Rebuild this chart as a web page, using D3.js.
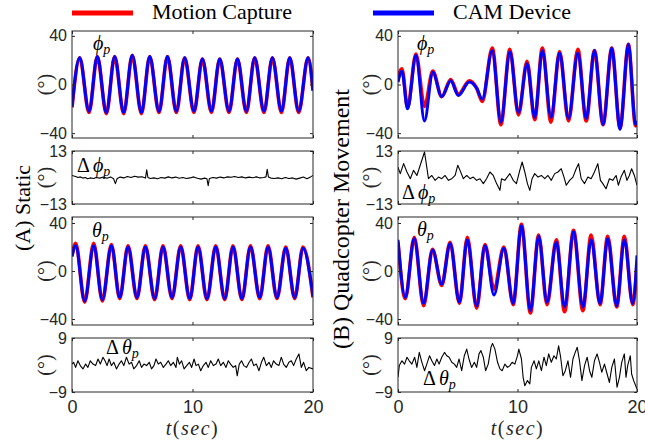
<!DOCTYPE html>
<html>
<head>
<meta charset="utf-8">
<script src="https://cdn.jsdelivr.net/npm/d3@7"></script>
<style>
body { margin: 0; background: #fff; }
svg { display: block; }
.tick text { font-family: "Liberation Sans", Arial, sans-serif; fill: #262626; }
.tick line { stroke: #262626; }
</style>
</head>
<body>
<div id="chart"></div>
<script>
// ---- (A) static: roll / pitch peaks & troughs (sec, deg)
const phiStaticT = [0, 0.64, 1.41, 2.1, 2.85, 3.54, 4.29, 5.0, 5.76, 6.45, 7.22, 7.92, 8.66, 9.35, 10.12, 10.82, 11.57, 12.26, 13.03, 13.73, 14.47, 15.16, 15.93, 16.63, 17.38, 18.07, 18.81, 19.59, 20]
const phiStaticCam = [-18, 22, -22, 23, -23, 23, -23, 24, -23, 23, -22, 23, -22, 22, -22, 21, -22, 21, -22, 21, -22, 22, -22, 22, -22, 22, -22, 22, -5]
const phiStaticMocap = [-19, 22, -23, 23, -24, 23, -24, 24, -24, 23, -23, 23, -23, 22, -23, 21, -23, 21, -23, 21, -23, 22, -23, 22, -23, 22, -23, 22, -5]

const thetaStaticT = [0, 0.31, 1.05, 1.8, 2.52, 3.27, 3.96, 4.65, 5.39, 6.09, 6.86, 7.55, 8.3, 9.02, 9.77, 10.46, 11.2, 11.93, 12.67, 13.36, 14.1, 14.81, 15.58, 16.27, 17.01, 17.74, 18.48, 19.17, 20]
const thetaStaticCam = [12, 21, -25, 21, -24, 21, -22, 20, -22, 20, -23, 20, -22, 20, -23, 20, -23, 20, -23, 20, -23, 20, -22, 20, -22, 19, -22, 19, -21]
const thetaStaticMocap = [13, 23, -26, 23, -25, 22, -23, 21, -23, 21, -24, 21, -23, 21, -24, 21, -24, 21, -24, 21, -24, 21, -23, 21, -23, 20, -23, 20, -22]

// ---- (B) quadcopter movement
const phiMoveT = [0, 0.33, 0.8, 1.5, 2.22, 2.91, 3.66, 4.41, 5.05, 5.97, 6.58, 7.05, 7.89, 8.61, 9.36, 10.08, 10.8, 11.44, 12.08, 12.8, 13.52, 14.27, 15.05, 15.75, 16.44, 17.16, 17.89, 18.58, 19.28, 19.88, 20]
const phiMoveCam = [2, 11, -20, 24, -30, 10, -10, 3, -9, 2, -3, -12, 28, -31, 27, -23, 17, -27, 28, -27, 26, -28, 26, -28, 28, -33, 30, -37, 33, -33, -30]
const phiMoveMocap = [6, 13, -19, 25, -18, 11, -10, 4, -8, 3, -3, -14, 30, -33, 29, -25, 19, -29, 30, -31, 27, -30, 29, -30, 28, -33, 30, -36, 33, -34, -31]

const thetaMoveT = [0, 0.61, 1.36, 2.14, 2.89, 3.66, 4.36, 5.14, 5.8, 6.58, 7.28, 8.03, 8.86, 9.64, 10.33, 11.08, 11.77, 12.47, 13.25, 13.94, 14.69, 15.47, 16.16, 16.91, 17.55, 18.3, 18.94, 19.64, 20]
const thetaMoveCam = [26, -22, 27, -27, 17.5, -11, 23, -26, 26, -29, 21, -20, 19, -27, 38, -33, 29, -26, 24, -30, 33, -30, 26, -27, 27, -29, 26, -27, 13]
const thetaMoveMocap = [24, -23, 28, -29, 18, -12, 24, -27, 28, -31, 22, -15, 20, -28, 39, -35, 30, -28, 26, -34, 34, -33, 30, -28, 29, -30, 29, -28, 5]

// ---- errors (sec, deg)
const dPhiStatic = [[0,1],[0.3,0.5],[0.5,0],[0.7,0.3],[0.9,-0.3],[1.1,0],[1.3,-0.6],[1.5,-0.2],[1.8,-0.5],[2.0,0],[2.3,-0.3],[2.6,0.2],[2.9,-0.4],[3.2,0.3],[3.45,-0.6],[3.6,-3],[3.75,-0.5],[4.0,0.2],[4.3,-0.2],[4.6,0.5],[4.9,0],[5.2,0.6],[5.5,0.2],[5.8,0.4],[6.1,-0.3],[6.2,3.8],[6.3,0],[6.5,-0.5],[6.8,-0.2],[7.1,-0.6],[7.4,0],[7.7,-0.3],[8.0,0.3],[8.3,-0.2],[8.6,0.2],[8.9,-0.4],[9.2,0],[9.5,-0.5],[9.8,-0.2],[10.1,0.3],[10.4,-0.4],[10.7,-0.8],[11.0,-0.3],[11.2,-0.6],[11.3,-4],[11.4,-0.5],[11.7,0],[12.0,-0.3],[12.3,0.2],[12.6,-0.2],[12.9,0.3],[13.2,0.1],[13.5,0.5],[13.8,0],[14.1,0.3],[14.4,-0.2],[14.7,0.2],[15.0,-0.1],[15.3,0.3],[15.6,-0.2],[15.9,0],[16.1,0.3],[16.2,4],[16.3,0.3],[16.5,-0.3],[16.8,-0.5],[17.1,-0.2],[17.4,-0.6],[17.7,0],[18.0,-0.5],[18.3,-0.2],[18.6,-0.8],[18.9,-0.3],[19.2,0.2],[19.5,-0.6],[19.8,0.3],[20,1]]

const dThetaStatic = [[0,0.3],[0.13,0.9],[0.3,-0.8],[0.49,1.4],[0.69,-0.2],[0.91,-1.3],[1.13,0.3],[1.32,-0.8],[1.52,1.4],[1.74,0.3],[1.96,-0.2],[2.16,2],[2.35,0.3],[2.57,2.6],[2.74,1.4],[2.91,-0.2],[3.08,2],[3.27,-0.2],[3.47,0.9],[3.69,-1.3],[3.91,0.3],[4.1,1.4],[4.3,-0.2],[4.52,2.6],[4.74,0.3],[4.94,0.9],[5.13,-1.3],[5.36,-0.2],[5.58,1.4],[5.77,-0.8],[5.97,0.3],[6.19,-0.2],[6.41,0.9],[6.6,-1.3],[6.8,-0.2],[6.97,2],[7.16,0.3],[7.36,0.9],[7.58,-0.8],[7.8,0.3],[7.99,1.4],[8.19,-0.2],[8.41,0.9],[8.63,-0.8],[8.74,2.6],[8.91,0.3],[9.1,1.4],[9.3,-1.3],[9.52,-0.2],[9.74,0.9],[9.93,-0.8],[10.13,2],[10.29,-0.2],[10.49,0.3],[10.68,-1.9],[10.9,-0.2],[11.12,0.9],[11.31,-0.8],[11.51,1.4],[11.73,-0.2],[11.95,0.3],[12.14,2],[12.34,-0.2],[12.56,0.9],[12.78,-0.8],[12.97,1.4],[13.16,0.3],[13.38,-0.8],[13.58,-0.2],[13.71,-3.6],[13.88,0.3],[14.07,1.4],[14.26,-0.2],[14.48,-0.8],[14.7,0.9],[14.89,2],[15.08,-0.2],[15.3,0.3],[15.52,-1.9],[15.72,0.9],[15.91,2.6],[16.13,-0.2],[16.35,0.9],[16.54,-0.8],[16.73,1.4],[16.95,0.3],[17.17,-0.2],[17.37,2.6],[17.56,0.3],[17.78,-0.8],[18.0,0.9],[18.2,1.4],[18.39,-0.2],[18.61,2],[18.83,3.7],[19.03,-0.8],[19.22,0.9],[19.44,-1.9],[19.66,-0.8],[20,-1.3]]

const dPhiMove = [[0,5],[0.19,1.9],[0.47,6.8],[0.75,2.7],[1.03,-0.6],[1.3,3.5],[1.58,1],[1.86,6],[2.22,12.5],[2.41,5],[2.55,-0.6],[2.83,1],[3.11,-1.4],[3.39,0.2],[3.66,-0.6],[3.94,1],[4.22,-1.4],[4.5,-0.6],[4.78,1],[5.0,6],[5.19,3.5],[5.47,-0.6],[5.75,1],[6.03,-0.6],[6.3,0.2],[6.58,-1.4],[6.86,-0.6],[7.14,-3],[7.41,-0.6],[7.69,2.7],[7.97,1],[8.25,-3],[8.53,-6.3],[8.66,-0.6],[8.94,-1.4],[9.36,1.9],[9.64,-1.4],[9.91,-3],[10.19,3.5],[10.39,7.6],[10.61,2.7],[10.83,-3],[11.03,-6.3],[11.22,-0.6],[11.44,1.9],[11.72,0.2],[12.0,1],[12.28,-0.6],[12.55,1],[12.83,-1.4],[13.11,1.9],[13.39,2.7],[13.66,4.3],[13.89,0.2],[14.08,-3.8],[14.36,-1.4],[14.64,0.2],[14.91,4.3],[15.11,6.8],[15.33,-0.6],[15.61,-3],[15.89,0.2],[16.16,-0.6],[16.44,2.7],[16.72,6.8],[16.94,-1.4],[17.14,-3],[17.41,-5.5],[17.69,-0.6],[17.97,-1.4],[18.25,1],[18.44,-3.8],[18.66,0.2],[18.94,3.5],[19.16,-1.4],[19.36,1],[19.55,4.3],[19.78,1],[20,-3.8]]

const dThetaMoveT = [0, 0.11, 0.33, 0.55, 0.75, 0.94, 1.16, 1.39, 1.58, 1.78, 2.0, 2.22, 2.41, 2.64, 2.83, 3.05, 3.25, 3.44, 3.66, 3.89, 4.08, 4.28, 4.5, 4.72, 4.91, 5.11, 5.33, 5.55, 5.75, 5.94, 6.16, 6.39, 6.58, 6.78, 6.94, 7.14, 7.33, 7.55, 7.78, 7.91, 8.11, 8.33, 8.53, 8.72, 8.94, 9.16, 9.36, 9.55, 9.78, 10.0, 10.11, 10.33, 10.47, 10.61, 10.83, 11.03, 11.16, 11.39, 11.58, 11.78, 12.0, 12.22, 12.41, 12.61, 12.83, 13.05, 13.25, 13.44, 13.61, 13.8, 14.0, 14.22, 14.44, 14.64, 14.83, 15.0, 15.19, 15.39, 15.61, 15.83, 16.03, 16.22, 16.44, 16.66, 16.86, 17.05, 17.28, 17.5, 17.69, 17.89, 18.11, 18.33, 18.53, 18.72, 18.94, 19.08, 19.22, 19.44, 19.55, 19.72, 20]
const dThetaMoveV = [-4.1, -0.2, 1.4, 0.3, 2.6, 1.4, 0.3, 2.6, -0.8, 4.2, 0.9, -1.9, 0.3, 3.1, 1.4, -0.2, 2, 0.3, 2.6, 4.2, 3.1, 2.6, 0.9, 0.3, -0.8, 2, -1.9, 3.1, 5.3, 2, -0.8, 0.9, -0.8, 3.7, 4.8, 2.6, -1.9, 0.3, 5.9, 7.2, 5.3, 0.9, -1.3, -1.9, 0.3, -0.8, -0.2, 0.9, 0.3, 3.1, 5.3, 2, -4.1, -6.9, -5.2, -6.3, -0.8, 1.4, -1.3, 1.4, -1.9, 2.6, -0.2, 3.7, 0.9, 3.1, 2, 6.4, 2.6, -3.6, -1.9, 1.4, -4.1, 2, 4.2, 5.9, 1.4, -5.2, -0.2, 2.6, -1.9, -4.1, 1.4, 3.7, 0.9, -2.4, 0.3, -3, -5.8, -0.8, 2, -7.4, -4.1, 0.9, 3.7, -4.1, -0.2, 3.1, -3, -5.2, -8]

const xTicks = [0, 10, 20]
const legendLabels = ["Motion Capture", "CAM Device"]
const sideLabels = ["(A) Static", "(B) Quadcopter Movement"]

const width = 645, height = 443
const serif = '"Liberation Serif", "Times New Roman", serif'
const red = "#ff0000", blue = "#0000ff"

const svg = d3.select("#chart")
    .append("svg")
    .attr("width", width)
    .attr("height", height)

svg.append("rect").attr("width", width).attr("height", height).attr("fill", "#fff")

const cols = [{x0: 72, x1: 313, ylab: 46}, {x0: 398, x1: 637, ylab: 371}]
const rows = [
    {y0: 31, y1: 138, domain: [-44, 44], ticks: [-40, 0, 40]},
    {y0: 151, y1: 204, domain: [-13, 13], ticks: [-13, 13]},
    {y0: 217, y1: 325, domain: [-45, 45], ticks: [-40, 0, 40]},
    {y0: 338, y1: 392, domain: [-9, 9], ticks: [-9, 9]}
]

let clipId = 0

function panel(col, row, series, bottom) {
    const x = d3.scaleLinear().domain([0, 20]).range([col.x0, col.x1])
    const y = d3.scaleLinear().domain(row.domain).range([row.y1, row.y0])
    const g = svg.append("g")

    const id = "clip" + (clipId++)
    g.append("clipPath").attr("id", id)
        .append("rect")
        .attr("x", col.x0).attr("y", row.y0)
        .attr("width", col.x1 - col.x0).attr("height", row.y1 - row.y0)

    series.forEach(s => {
        const line = d3.line()
            .x(d => x(d[0]))
            .y(d => y(d[1]))
            .curve(s.smooth ? d3.curveMonotoneX : d3.curveLinear)
        g.append("path")
            .attr("clip-path", `url(#${id})`)
            .attr("d", line(s.data))
            .attr("fill", "none")
            .attr("stroke", s.color)
            .attr("stroke-width", s.width)
            .attr("stroke-linejoin", "round")
    })

    const strip = sel => sel.select(".domain").remove()

    g.append("g")
        .attr("transform", `translate(${col.x0},0)`)
        .call(d3.axisLeft(y).tickValues(row.ticks).tickSize(-3).tickSizeOuter(0).tickPadding(5))
        .call(strip)
        .selectAll("text").style("font-size", "16px")
    g.append("g")
        .attr("transform", `translate(${col.x1},0)`)
        .call(d3.axisRight(y).tickValues(row.ticks).tickSize(-3).tickSizeOuter(0).tickFormat(""))
        .call(strip)
    g.append("g")
        .attr("transform", `translate(0,${row.y0})`)
        .call(d3.axisTop(x).tickValues(xTicks).tickSize(-3).tickSizeOuter(0).tickFormat(""))
        .call(strip)
    const xb = g.append("g")
        .attr("transform", `translate(0,${row.y1})`)
        .call(d3.axisBottom(x).tickValues(xTicks).tickSize(-3).tickSizeOuter(0).tickPadding(8)
            .tickFormat(bottom ? d3.format("d") : ""))
        .call(strip)
    xb.selectAll("text").style("font-size", "18px")

    g.append("rect")
        .attr("x", col.x0).attr("y", row.y0)
        .attr("width", col.x1 - col.x0).attr("height", row.y1 - row.y0)
        .attr("fill", "none")
        .attr("stroke", "#262626")
        .attr("stroke-width", 1)

    // (°) unit label
    const cy = (row.y0 + row.y1) / 2
    g.append("text")
        .attr("transform", `translate(${col.ylab},${cy}) rotate(-90)`)
        .attr("text-anchor", "middle")
        .attr("dy", "0.3em")
        .attr("font-family", serif)
        .attr("font-size", 20)
        .attr("fill", "#262626")
        .text("(°)")

    if (bottom) {
        const t = g.append("text")
            .attr("x", (col.x0 + col.x1) / 2)
            .attr("y", 435)
            .attr("text-anchor", "middle")
            .attr("font-family", serif)
            .attr("font-size", 20)
            .attr("letter-spacing", 1.5)
            .attr("fill", "#262626")
        t.append("tspan").attr("font-style", "italic").text("t")
        t.append("tspan").text("(")
        t.append("tspan").attr("font-style", "italic").text("sec")
        t.append("tspan").text(")")
    }
}

function mathLabel(x, y, delta, sym) {
    const t = svg.append("text")
        .attr("x", x).attr("y", y)
        .attr("font-family", serif)
        .attr("font-size", 20)
        .attr("fill", "#000")
    if (delta) t.append("tspan").text("Δ")
    t.append("tspan").attr("font-style", "italic").attr("dx", delta ? 3 : 0).text(sym)
    t.append("tspan").attr("font-style", "italic").attr("font-size", 14).attr("dy", 4).text("p")
}

const pair = (ts, vs) => d3.zip(ts, vs)
const thick = (ts, mocap, cam) => [
    {data: pair(ts, mocap), color: red, width: 3.6, smooth: true},
    {data: pair(ts, cam), color: blue, width: 3, smooth: true}
]
const thin = data => [{data: data, color: "#000", width: 1.1, smooth: false}]

panel(cols[0], rows[0], thick(phiStaticT, phiStaticMocap, phiStaticCam), false)
panel(cols[0], rows[1], thin(dPhiStatic), false)
panel(cols[0], rows[2], thick(thetaStaticT, thetaStaticMocap, thetaStaticCam), false)
panel(cols[0], rows[3], thin(dThetaStatic), true)

panel(cols[1], rows[0], thick(phiMoveT, phiMoveMocap, phiMoveCam), false)
panel(cols[1], rows[1], thin(dPhiMove), false)
panel(cols[1], rows[2], thick(thetaMoveT, thetaMoveMocap, thetaMoveCam), false)
panel(cols[1], rows[3], thin(pair(dThetaMoveT, dThetaMoveV)), true)

mathLabel(93, 50, false, "ϕ")
mathLabel(77, 172, true, "ϕ")
mathLabel(92, 237, false, "θ")
mathLabel(106, 354, true, "θ")
mathLabel(417, 50, false, "ϕ")
mathLabel(402, 199, true, "ϕ")
mathLabel(417, 236, false, "θ")
mathLabel(423, 385, true, "θ")

// side labels
svg.append("text")
    .attr("transform", "translate(22,208) rotate(-90)")
    .attr("text-anchor", "middle").attr("dy", "0.35em")
    .attr("font-family", serif).attr("font-size", 22)
    .text(sideLabels[0])
svg.append("text")
    .attr("transform", "translate(341,219) rotate(-90)")
    .attr("text-anchor", "middle").attr("dy", "0.35em")
    .attr("font-family", serif).attr("font-size", 24)
    .text(sideLabels[1])

// legend
const legend = [{x: 72, color: red}, {x: 373, color: blue}]
legend.forEach((l, i) => {
    svg.append("line")
        .attr("x1", l.x).attr("x2", l.x + 61)
        .attr("y1", 13).attr("y2", 13)
        .attr("stroke", l.color).attr("stroke-width", 5)
    svg.append("text")
        .attr("x", l.x + 80).attr("y", 19)
        .attr("font-family", serif).attr("font-size", 22)
        .attr("fill", "#000")
        .text(legendLabels[i])
})
</script>
</body>
</html>
